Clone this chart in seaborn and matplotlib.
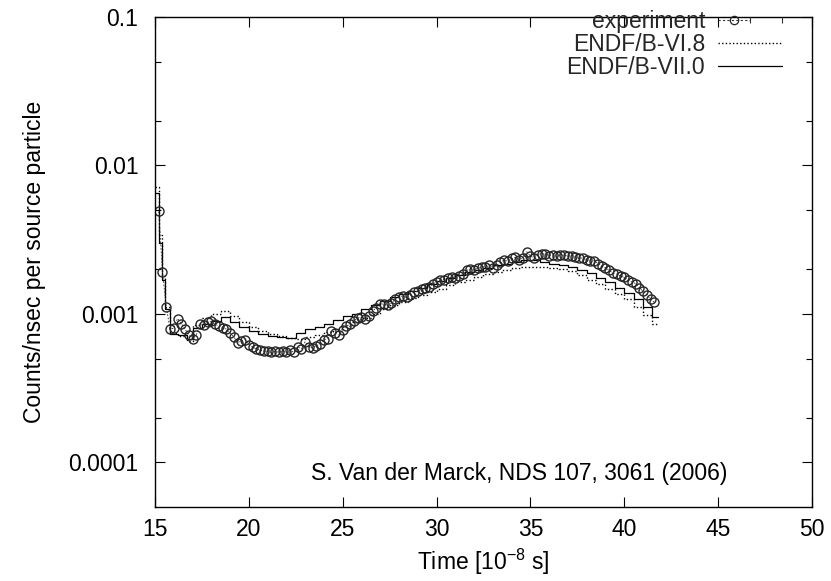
import matplotlib
matplotlib.use("Agg")
import matplotlib.pyplot as plt
import pandas as pd
import seaborn as sns
from matplotlib.lines import Line2D
from matplotlib.legend_handler import HandlerLine2D, HandlerTuple
from matplotlib.ticker import FixedLocator, NullLocator, NullFormatter

# ---------------- data ----------------
exp_time = [
    15.2, 15.4, 15.6, 15.8, 16.0, 16.2, 16.4, 16.6, 16.8, 17.0,
    17.2, 17.4, 17.6, 17.8, 18.0, 18.2, 18.4, 18.6, 18.8, 19.0,
    19.2, 19.4, 19.6, 19.8, 20.0, 20.2, 20.4, 20.6, 20.8, 21.0,
    21.2, 21.4, 21.6, 21.8, 22.0, 22.2, 22.4, 22.6, 22.8, 23.0,
    23.2, 23.4, 23.6, 23.8, 24.0, 24.2, 24.4, 24.6, 24.8, 25.0,
    25.2, 25.4, 25.6, 25.8, 26.0, 26.2, 26.4, 26.6, 26.8, 27.0,
    27.2, 27.4, 27.6, 27.8, 28.0, 28.2, 28.4, 28.6, 28.8, 29.0,
    29.2, 29.4, 29.6, 29.8, 30.0, 30.2, 30.4, 30.6, 30.8, 31.0,
    31.2, 31.4, 31.6, 31.8, 32.0, 32.2, 32.4, 32.6, 32.8, 33.0,
    33.2, 33.4, 33.6, 33.8, 34.0, 34.2, 34.4, 34.6, 34.8, 35.0,
    35.2, 35.4, 35.6, 35.8, 36.0, 36.2, 36.4, 36.6, 36.8, 37.0,
    37.2, 37.4, 37.6, 37.8, 38.0, 38.2, 38.4, 38.6, 38.8, 39.0,
    39.2, 39.4, 39.6, 39.8, 40.0, 40.2, 40.4, 40.6, 40.8, 41.0,
    41.2, 41.4, 41.6,
]
exp_counts = [
    0.0049, 0.0019, 0.00112, 0.00079, 0.00080, 0.00093, 0.00086, 0.00079, 0.00072, 0.00068,
    0.00072, 0.00086, 0.00084, 0.00088, 0.00089, 0.00085, 0.00083, 0.00080, 0.00079, 0.00074,
    0.00070, 0.00064, 0.00066, 0.00067, 0.00062, 0.00060, 0.00058, 0.00057, 0.00056, 0.00056,
    0.00055, 0.00056, 0.00055, 0.00056, 0.00055, 0.00057, 0.00055, 0.00060, 0.00058, 0.00065,
    0.00060, 0.00059, 0.00061, 0.00063, 0.00067, 0.00068, 0.00077, 0.00074, 0.00072, 0.00078,
    0.00083, 0.00085, 0.00090, 0.00094, 0.00095, 0.00093, 0.00097, 0.00105, 0.00110, 0.00117,
    0.00116, 0.00114, 0.00118, 0.00126, 0.00130, 0.00132, 0.00129, 0.00135, 0.00140, 0.00142,
    0.00147, 0.00150, 0.00152, 0.00158, 0.00165, 0.00168, 0.00170, 0.00174, 0.00177, 0.00175,
    0.00180, 0.00185, 0.00196, 0.00200, 0.00197, 0.00203, 0.00206, 0.00208, 0.00214, 0.00205,
    0.00212, 0.00222, 0.00230, 0.00226, 0.00236, 0.00240, 0.00232, 0.00238, 0.00262, 0.00245,
    0.00238, 0.00250, 0.00255, 0.00252, 0.00247, 0.00250, 0.00244, 0.00250, 0.00248, 0.00245,
    0.00247, 0.00242, 0.00236, 0.00239, 0.00230, 0.00226, 0.00228, 0.00218, 0.00210, 0.00204,
    0.00196, 0.00188, 0.00185, 0.00180, 0.00176, 0.00170, 0.00164, 0.00160, 0.00150, 0.00142,
    0.00135, 0.00125, 0.00120,
]

model_edges = [
    15.0, 15.2, 15.35, 15.55, 15.8, 16.25, 16.7, 17.0,
    17.5, 18.0, 18.5, 19.0, 19.5, 20.0, 20.5, 21.0, 21.5, 22.0,
    22.5, 23.0, 23.5, 24.0, 24.5, 25.0, 25.5, 26.0, 26.5, 27.0,
    27.5, 28.0, 28.5, 29.0, 29.5, 30.0, 30.5, 31.0, 31.5, 32.0,
    32.5, 33.0, 33.5, 34.0, 34.5, 35.0, 35.5, 36.0, 36.5, 37.0,
    37.5, 38.0, 38.5, 39.0, 39.5, 40.0, 40.5, 41.0, 41.5, 41.8,
]
endf_b6_8 = [
    0.0072, 0.0034, 0.0018, 0.00112, 0.00074, 0.00071, 0.00066,
    0.00084, 0.00094, 0.00100, 0.00105, 0.00096, 0.00088, 0.00082, 0.00077, 0.00073, 0.00071,
    0.00069, 0.00068, 0.00070, 0.00072, 0.00075, 0.00079, 0.00083, 0.00088, 0.00094, 0.00100,
    0.00107, 0.00114, 0.00120, 0.00127, 0.00135, 0.00141, 0.00148, 0.00156, 0.00163, 0.00170,
    0.00178, 0.00186, 0.00192, 0.00198, 0.00203, 0.00207, 0.00208, 0.00207, 0.00205, 0.00200,
    0.00193, 0.00182, 0.00170, 0.00158, 0.00147, 0.00137, 0.00126, 0.00112, 0.00098, 0.00085,
]
endf_b7_0 = [
    0.0065, 0.0030, 0.0017, 0.00108, 0.00073, 0.00072, 0.00068,
    0.00080, 0.00086, 0.00090, 0.00095, 0.00088, 0.00082, 0.00077, 0.00073, 0.00071, 0.00070,
    0.00069, 0.00074, 0.00079, 0.00082, 0.00086, 0.00091, 0.00096, 0.00100, 0.00107, 0.00115,
    0.00122, 0.00130, 0.00136, 0.00142, 0.00150, 0.00160, 0.00166, 0.00174, 0.00183, 0.00190,
    0.00198, 0.00205, 0.00212, 0.00218, 0.00225, 0.00232, 0.00230, 0.00224, 0.00218, 0.00212,
    0.00208, 0.00198, 0.00188, 0.00175, 0.00163, 0.00150, 0.00138, 0.00125, 0.00112, 0.00095,
]

x_ticks = [15, 20, 25, 30, 35, 40, 45, 50]
y_ticks = [0.1, 0.01, 0.001, 0.0001]
y_tick_labels = ["0.1", "0.01", "0.001", "0.0001"]
y_minor_ticks = [0.05, 0.02, 0.005, 0.002, 0.0005, 0.0002]
series_labels = ["experiment", "ENDF/B-VI.8", "ENDF/B-VII.0"]
note_text = "S. Van der Marck, NDS 107, 3061 (2006)"

# ---------------- style ----------------
sns.set_style("ticks")
plt.rcParams["font.family"] = ["Liberation Sans", "DejaVu Sans"]
plt.rcParams["mathtext.fontset"] = "custom"
plt.rcParams["mathtext.rm"] = "Liberation Sans"
plt.rcParams["mathtext.it"] = "Liberation Sans"
plt.rcParams["mathtext.default"] = "regular"
FS = 16.5

fig = plt.figure(figsize=(8.31, 5.81), dpi=100)
fig.patch.set_facecolor("white")
ax = fig.add_axes([0.1865, 0.1274, 0.7906, 0.8434])

df_exp = pd.DataFrame({"t": exp_time, "v": exp_counts})
df6 = pd.DataFrame({"t": model_edges, "v": endf_b6_8 + [endf_b6_8[-1]]})
df7 = pd.DataFrame({"t": model_edges, "v": endf_b7_0 + [endf_b7_0[-1]]})

sns.lineplot(data=df6, x="t", y="v", ax=ax, estimator=None, sort=False,
             drawstyle="steps-post", color="black", lw=1.0, linestyle=(0, (1, 1.6)))
sns.lineplot(data=df7, x="t", y="v", ax=ax, estimator=None, sort=False,
             drawstyle="steps-post", color="black", lw=0.9)
sns.lineplot(data=df_exp, x="t", y="v", ax=ax, estimator=None, sort=False,
             color="#333333", lw=0.6, linestyle=(0, (2, 2)),
             marker="o", markersize=6.5, mfc="none", mec="#262626", mew=1.0)

ax.set_yscale("log")
ax.set_xlim(15, 50)
ax.set_ylim(5e-5, 0.1)
ax.xaxis.set_major_locator(FixedLocator(x_ticks))
ax.set_xticklabels([str(v) for v in x_ticks])
ax.xaxis.set_minor_locator(NullLocator())
ax.yaxis.set_major_locator(FixedLocator(y_ticks))
ax.set_yticklabels(y_tick_labels)
ax.yaxis.set_minor_locator(FixedLocator(y_minor_ticks))
ax.yaxis.set_minor_formatter(NullFormatter())

ax.tick_params(which="both", direction="in", top=True, right=True,
               color="black", width=0.8, labelsize=FS, labelcolor="black")
ax.tick_params(axis="y", which="major", length=7, pad=12)
ax.tick_params(axis="x", which="major", length=7, pad=8)
ax.tick_params(which="minor", length=4)
for s in ax.spines.values():
    s.set_visible(True)
    s.set_color("black")
    s.set_linewidth(1.0)

ax.set_xlabel("Time [10$^{-8}$ s]", fontsize=FS, color="black", labelpad=4)
ax.set_ylabel("Counts/nsec per source particle", fontsize=FS, color="black", labelpad=16)

ax.text(34.4, 8.4e-5, note_text, ha="center", va="center", fontsize=FS, color="black")

# legend (gnuplot-like key: text first, sample to the right)
h_exp = Line2D([], [], color="#333333", lw=0.8, linestyle=(0, (2, 2)),
               marker="o", mfc="none", mec="#262626", ms=6, mew=0.9)
h_caps = Line2D([], [], color="#333333", lw=0, marker="|", ms=5, mew=0.8)
h6 = Line2D([], [], color="black", lw=1.0, linestyle=(0, (1, 1.6)))
h7 = Line2D([], [], color="black", lw=0.9)
ax.legend([(h_exp, h_caps), h6, h7], series_labels,
          handler_map={h_caps: HandlerLine2D(numpoints=2, marker_pad=0),
                       tuple: HandlerTuple(ndivide=None, pad=0)},
          markerfirst=False, loc="upper right", bbox_to_anchor=(0.955, 1.015),
          frameon=False, fontsize=FS,
          handlelength=2.8, labelspacing=0.0, borderaxespad=0.0,
          handletextpad=0.57, numpoints=1, borderpad=0.0)

fig.savefig("out.png", dpi=100)
